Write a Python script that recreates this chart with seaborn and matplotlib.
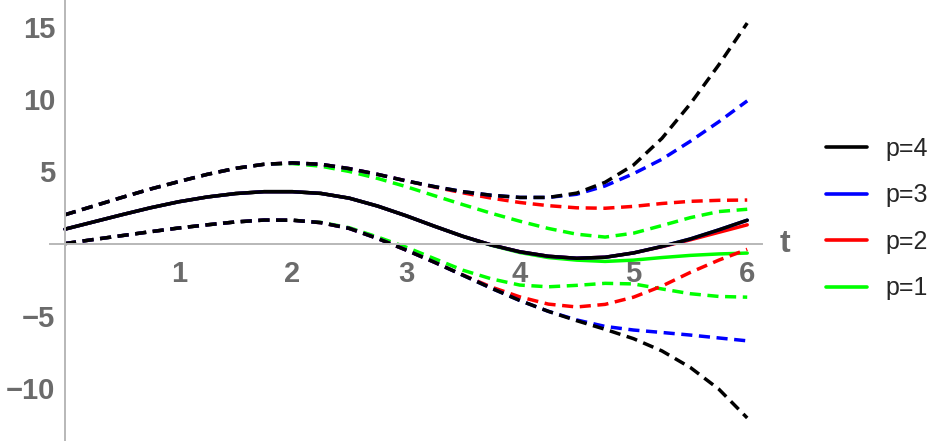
import numpy as np
import pandas as pd
import seaborn as sns
import matplotlib.pyplot as plt
from matplotlib.ticker import FixedLocator, MultipleLocator
from matplotlib.lines import Line2D

# time grid (read every 0.25)
t = [0.0, 0.25, 0.5, 0.75, 1.0, 1.25, 1.5, 1.75, 2.0, 2.25, 2.5, 2.75, 3.0,
     3.25, 3.5, 3.75, 4.0, 4.25, 4.5, 4.75, 5.0, 5.25, 5.5, 5.75, 6.0]

# p=4 (black)
p4_mid = [1.0, 1.5, 2.0, 2.48, 2.9, 3.23, 3.47, 3.6, 3.6, 3.48, 3.15, 2.6, 1.93,
          1.2, 0.5, -0.1, -0.57, -0.88, -1.02, -0.95, -0.65, -0.2, 0.32, 0.95, 1.62]
p4_hi = [2.0, 2.6, 3.2, 3.78, 4.3, 4.8, 5.22, 5.5, 5.6, 5.5, 5.2, 4.8, 4.35,
         3.95, 3.6, 3.35, 3.2, 3.2, 3.5, 4.25, 5.45, 7.3, 9.7, 12.4, 15.3]
p4_lo = [0.0, 0.28, 0.55, 0.82, 1.08, 1.3, 1.5, 1.63, 1.62, 1.45, 1.05, 0.35, -0.45,
         -1.3, -2.2, -3.1, -3.95, -4.7, -5.35, -5.95, -6.6, -7.45, -8.6, -10.1, -12.1]

# p=3 (blue)
p3_mid = p4_mid
p3_hi = [2.0, 2.6, 3.2, 3.78, 4.3, 4.8, 5.22, 5.5, 5.6, 5.5, 5.2, 4.8, 4.35,
         3.95, 3.6, 3.35, 3.2, 3.2, 3.42, 4.0, 4.85, 5.85, 7.1, 8.45, 9.9]
p3_lo = [0.0, 0.28, 0.55, 0.82, 1.08, 1.3, 1.5, 1.63, 1.62, 1.45, 1.05, 0.35, -0.45,
         -1.3, -2.2, -3.1, -3.95, -4.7, -5.3, -5.75, -6.0, -6.17, -6.35, -6.55, -6.75]

# p=2 (red)
p2_mid = [1.0, 1.5, 2.0, 2.48, 2.9, 3.23, 3.47, 3.6, 3.6, 3.48, 3.15, 2.6, 1.93,
          1.2, 0.5, -0.1, -0.57, -0.88, -1.02, -0.95, -0.65, -0.22, 0.26, 0.78, 1.3]
p2_hi = [2.0, 2.6, 3.2, 3.78, 4.3, 4.8, 5.22, 5.5, 5.6, 5.5, 5.2, 4.8, 4.35,
         3.92, 3.52, 3.15, 2.85, 2.63, 2.48, 2.45, 2.58, 2.78, 2.93, 3.0, 3.02]
p2_lo = [0.0, 0.28, 0.55, 0.82, 1.08, 1.3, 1.5, 1.63, 1.62, 1.45, 1.05, 0.35, -0.45,
         -1.3, -2.18, -3.02, -3.7, -4.2, -4.4, -4.22, -3.72, -2.95, -2.0, -1.15, -0.4]

# p=1 (green)
p1_mid = [1.0, 1.5, 2.0, 2.48, 2.9, 3.23, 3.47, 3.6, 3.6, 3.48, 3.15, 2.6, 1.93,
          1.2, 0.5, -0.12, -0.62, -0.97, -1.15, -1.24, -1.15, -0.97, -0.82, -0.72, -0.66]
p1_hi = [2.0, 2.6, 3.2, 3.78, 4.3, 4.8, 5.22, 5.5, 5.55, 5.37, 5.0, 4.52, 3.95,
         3.32, 2.7, 2.1, 1.55, 1.05, 0.65, 0.45, 0.72, 1.25, 1.8, 2.22, 2.38]
p1_lo = [0.0, 0.28, 0.55, 0.82, 1.08, 1.3, 1.5, 1.63, 1.62, 1.47, 1.1, 0.45, -0.25,
         -1.05, -1.85, -2.45, -2.88, -3.0, -2.9, -2.76, -2.8, -3.15, -3.48, -3.67, -3.72]

labels = ["p=4", "p=3", "p=2", "p=1"]
colors = ["black", "#0000ff", "#ff0000", "#00ff00"]
series = [(p4_mid, p4_hi, p4_lo), (p3_mid, p3_hi, p3_lo),
          (p2_mid, p2_hi, p2_lo), (p1_mid, p1_hi, p1_lo)]

sns.set_style("white")
plt.rcParams["font.family"] = ["Liberation Sans", "DejaVu Sans"]

fig = plt.figure(figsize=(9.33, 4.41), dpi=100)
ax = fig.add_axes([50 / 933, 0, 712 / 933, 1])

lw = 2.5
dash = (0, (3.2, 1.9))
# draw p=1 first so black ends up on top
for (mid, hi, lo), col in reversed(list(zip(series, colors))):
    sns.lineplot(x=t, y=lo, color=col, lw=lw, ax=ax, linestyle=dash)
    sns.lineplot(x=t, y=hi, color=col, lw=lw, ax=ax, linestyle=dash)
    sns.lineplot(x=t, y=mid, color=col, lw=lw, ax=ax)

ax.set_xlim(-0.132, 6.13)
ax.set_ylim(-13.7, 16.9)

axis_col = "#b8b8b8"
label_col = "#6b6b6b"
for side in ["top", "right"]:
    ax.spines[side].set_visible(False)
for side in ["left", "bottom"]:
    ax.spines[side].set_position(("data", 0))
    ax.spines[side].set_color(axis_col)
    ax.spines[side].set_linewidth(1.4)

ax.xaxis.set_major_locator(FixedLocator([1, 2, 3, 4, 5, 6]))
ax.xaxis.set_minor_locator(MultipleLocator(0.2))
ax.yaxis.set_major_locator(FixedLocator([-10, -5, 5, 10, 15]))
ax.yaxis.set_minor_locator(MultipleLocator(1))

ax.tick_params(which="both", direction="in", color=axis_col, width=1.2)
ax.tick_params(which="major", length=6.5)
ax.tick_params(which="minor", length=4)
ax.tick_params(axis="x", which="major", pad=11.5, labelsize=21, labelcolor=label_col)
ax.tick_params(axis="y", which="major", pad=7, labelsize=21, labelcolor=label_col)
for lab in ax.get_xticklabels() + ax.get_yticklabels():
    lab.set_fontweight("bold")

ax.text(6.33, 0, "t", ha="center", va="center", fontsize=23, fontweight="bold",
        color=label_col, clip_on=False)

handles = [Line2D([], [], color=c, lw=2.6) for c in colors]
fig.legend(handles, labels, loc="center left", bbox_to_anchor=(826 / 933, 0.504),
           frameon=False, fontsize=18, handlelength=1.64, handletextpad=0.72,
           labelspacing=0.9, borderpad=0, borderaxespad=0)

fig.savefig("out.png", dpi=100)
